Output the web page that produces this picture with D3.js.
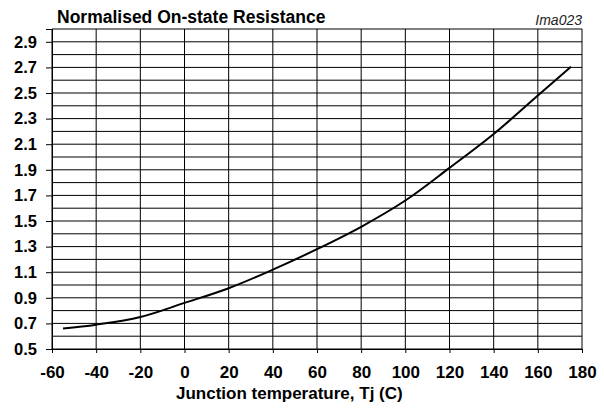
<!DOCTYPE html>
<html><head><meta charset="utf-8">
<script src="https://cdn.jsdelivr.net/npm/d3@7"></script>
<style>body{margin:0;background:#fff}svg{display:block}text{font-family:"Liberation Sans",Arial,sans-serif}</style>
</head><body><svg id="c" width="604" height="411"></svg>
<script>
const temps = [-55, -40, -20, 0, 20, 40, 60, 80, 100, 120, 140, 160, 175];
const resistance = [0.66, 0.69, 0.75, 0.86, 0.975, 1.12, 1.28, 1.455, 1.66, 1.915, 2.18, 2.48, 2.705];
const xTicks = [-60, -40, -20, 0, 20, 40, 60, 80, 100, 120, 140, 160, 180];
const yTicks = [0.5, 0.7, 0.9, 1.1, 1.3, 1.5, 1.7, 1.9, 2.1, 2.3, 2.5, 2.7, 2.9];
const yGrid = d3.range(5, 31).map(d => d / 10);
const title = "Normalised On-state Resistance";
const xTitle = "Junction temperature, Tj (C)";
const ref = "Ima023";

const svg = d3.select("#c");
const L = 52, R = 582, T = 29, B = 349;
const x = d3.scaleLinear().domain([-60, 180]).range([L, R]);
const y = d3.scaleLinear().domain([0.5, 3.0]).range([B, T]);

// grid
svg.append("g").selectAll("line").data(yGrid).join("line")
  .attr("x1", L).attr("x2", R).attr("y1", d => y(d)).attr("y2", d => y(d))
  .attr("stroke", "#000").attr("stroke-width", 1);
svg.append("g").selectAll("line").data(xTicks).join("line")
  .attr("x1", d => x(d)).attr("x2", d => x(d)).attr("y1", T).attr("y2", B)
  .attr("stroke", "#000").attr("stroke-width", 1);

// axes
const xa = svg.append("g").attr("transform", `translate(0,${B})`)
  .call(d3.axisBottom(x).tickValues(xTicks).tickSize(4).tickPadding(13).tickFormat(d => String(d)));
const ya = svg.append("g").attr("transform", `translate(${L},0)`)
  .call(d3.axisLeft(y).tickValues(yTicks).tickSize(6).tickPadding(9).tickFormat(d3.format(".1f")));
[xa, ya].forEach(g => {
  g.select(".domain").attr("stroke", "#000");
  g.selectAll(".tick line").attr("stroke", "#000");
  g.selectAll("text").attr("fill", "#000").attr("font-size", 17).attr("font-weight", "bold")
    .attr("font-family", '"Liberation Sans",Arial,sans-serif');
});
ya.selectAll("text").attr("font-size", 16.5);

// curve
svg.append("path").datum(temps.map((t, i) => [t, resistance[i]]))
  .attr("fill", "none").attr("stroke", "#000").attr("stroke-width", 2)
  .attr("d", d3.line().x(d => x(d[0])).y(d => y(d[1])).curve(d3.curveCatmullRom));

// texts
svg.append("text").attr("x", 57).attr("y", 23).attr("font-size", 17.5).attr("font-weight", "bold").text(title);
svg.append("text").attr("x", 176).attr("y", 399).attr("font-size", 17).attr("font-weight", "bold").text(xTitle);
svg.append("text").attr("x", 582).attr("y", 25).attr("text-anchor", "end").attr("font-size", 14)
  .attr("font-style", "italic").attr("fill", "#222").text(ref);
</script></body></html>
